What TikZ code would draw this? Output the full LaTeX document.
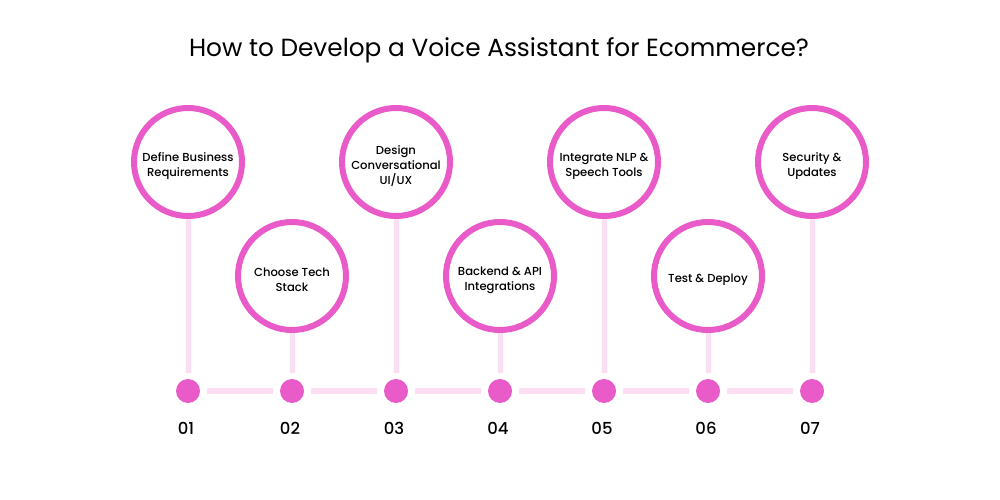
\documentclass[tikz,border=0pt]{standalone}
\usepackage{fontspec}
\setmainfont{Poppins}
\newfontfamily\medfont{Poppins}[UprightFont=* Medium]
\usepackage{tikz}

\definecolor{stepmag}{HTML}{E85BC8}
\definecolor{steppale}{HTML}{FCDDF2}

\begin{document}
\begin{tikzpicture}[x=1pt,y=-1pt,
  stepcirc/.style={circle,draw=stepmag,line width=6pt,minimum size=108pt,inner sep=0pt},
  steptext/.style={align=center,yshift=-4pt,font=\medfont\fontsize{11.6}{15}\selectfont},
  tdot/.style={circle,fill=stepmag,minimum size=24pt,inner sep=0pt},
  stepnum/.style={font=\medfont\fontsize{16.5}{18}\selectfont},
  stem/.style={steppale,line width=5pt,shorten >=6pt},
  rail/.style={steppale,line width=6pt,shorten <=7pt,shorten >=7pt}]

\fill[white] (0,0) rectangle (1000,500);
\useasboundingbox (0,0) rectangle (1000,500);

\node (title) at (499,50) {\fontsize{24.8}{28}\selectfont How to Develop a Voice Assistant for Ecommerce?};

% circles
\node[stepcirc] (c1) at (188,162) {}; \node[steptext] (t1) at (c1) {Define Business\\Requirements};
\node[stepcirc] (c2) at (292,276) {}; \node[steptext] (t2) at (c2) {Choose Tech\\Stack};
\node[stepcirc] (c3) at (396,162) {}; \node[steptext] (t3) at (c3) {Design\\Conversational\\UI/UX};
\node[stepcirc] (c4) at (500,276) {}; \node[steptext] (t4) at (c4) {Backend \& API\\Integrations};
\node[stepcirc] (c5) at (604,162) {}; \node[steptext] (t5) at (c5) {Integrate NLP \&\\Speech Tools};
\node[stepcirc] (c6) at (708,276) {}; \node[steptext] (t6) at (c6) {Test \& Deploy};
\node[stepcirc] (c7) at (812,162) {}; \node[steptext] (t7) at (c7) {Security \&\\Updates};

% dots on the timeline
\node[tdot] (d1) at (188,391) {}; \node[stepnum] (n1) at (186,428) {01};
\node[tdot] (d2) at (292,391) {}; \node[stepnum] (n2) at (290,428) {02};
\node[tdot] (d3) at (396,391) {}; \node[stepnum] (n3) at (394,428) {03};
\node[tdot] (d4) at (500,391) {}; \node[stepnum] (n4) at (498,428) {04};
\node[tdot] (d5) at (604,391) {}; \node[stepnum] (n5) at (602,428) {05};
\node[tdot] (d6) at (708,391) {}; \node[stepnum] (n6) at (706,428) {06};
\node[tdot] (d7) at (812,391) {}; \node[stepnum] (n7) at (810,428) {07};

% stems
\draw[stem] (c1.south) -- (d1.north);
\draw[stem] (c2.south) -- (d2.north);
\draw[stem] (c3.south) -- (d3.north);
\draw[stem] (c4.south) -- (d4.north);
\draw[stem] (c5.south) -- (d5.north);
\draw[stem] (c6.south) -- (d6.north);
\draw[stem] (c7.south) -- (d7.north);

% rail
\draw[rail] (d1) -- (d2); \draw[rail] (d2) -- (d3); \draw[rail] (d3) -- (d4);
\draw[rail] (d4) -- (d5); \draw[rail] (d5) -- (d6); \draw[rail] (d6) -- (d7);

\end{tikzpicture}
\end{document}
